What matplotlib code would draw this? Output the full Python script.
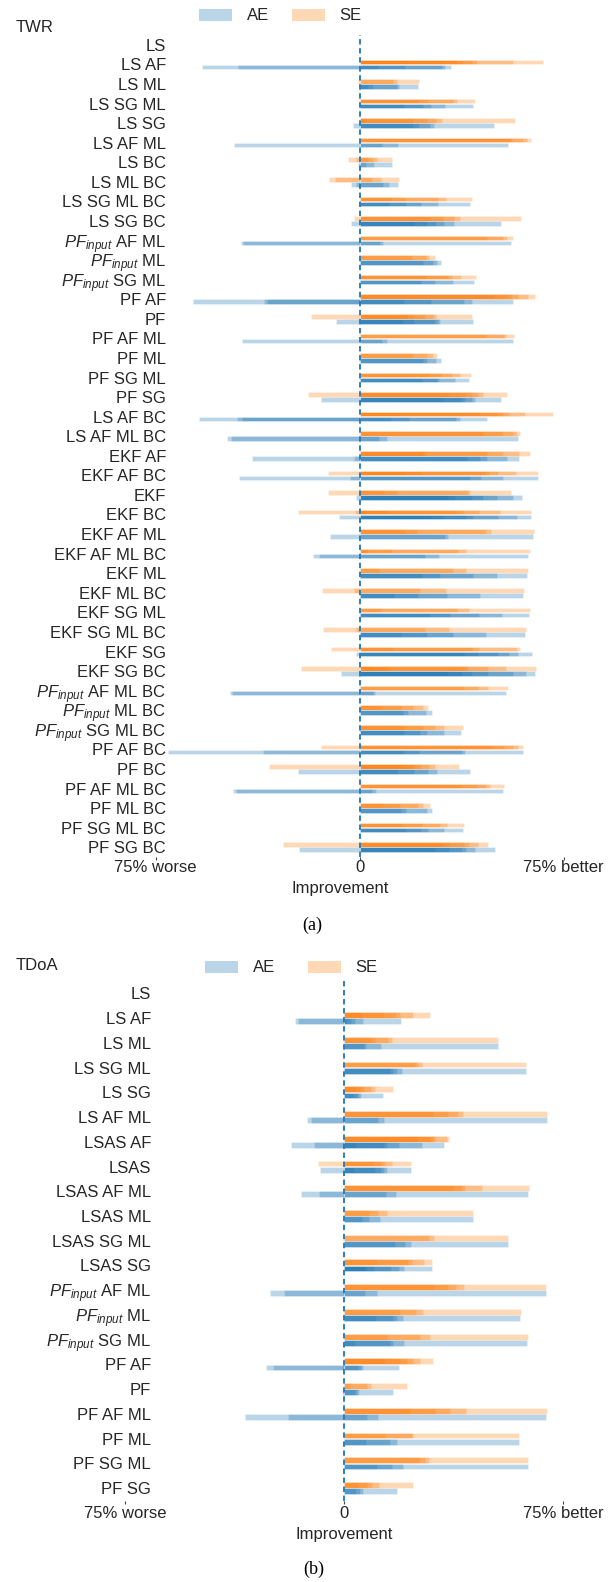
import matplotlib
matplotlib.use("Agg")
import matplotlib.pyplot as plt
from matplotlib.patches import Patch

plt.rcParams['font.family'] = ['Liberation Sans', 'DejaVu Sans']
plt.rcParams['mathtext.fontset'] = 'custom'
plt.rcParams['mathtext.rm'] = 'Liberation Sans'
plt.rcParams['mathtext.it'] = 'Liberation Sans:italic'

PFI = r'$PF_{input}$'

# ---------------- data ----------------
twr_labels = ["LS", "LS AF", "LS ML", "LS SG ML", "LS SG", "LS AF ML", "LS BC", "LS ML BC",
              "LS SG ML BC", "LS SG BC", PFI + " AF ML", PFI + " ML", PFI + " SG ML", "PF AF",
              "PF", "PF AF ML", "PF ML", "PF SG ML", "PF SG", "LS AF BC", "LS AF ML BC",
              "EKF AF", "EKF AF BC", "EKF", "EKF BC", "EKF AF ML", "EKF AF ML BC", "EKF ML",
              "EKF ML BC", "EKF SG ML", "EKF SG ML BC", "EKF SG", "EKF SG BC",
              PFI + " AF ML BC", PFI + " ML BC", PFI + " SG ML BC", "PF AF BC", "PF BC",
              "PF AF ML BC", "PF ML BC", "PF SG ML BC", "PF SG BC"]

twr_se = [
    [],
    [17.3, 30.6, 35.7, 38.1, 41.5, 43.1, 56.3, 67.6],
    [-0.5, 12.4, 13.9, 21.9],
    [21.6, 25.3, 34.3, 36.0, 42.5],
    [2.3, 19.8, 24.9, 28.1, 30.2, 57.2],
    [55.3, 56.2, 60.0, 61.5, 62.9],
    [-1.3, -4.1, 3.0, 5.1, 6.4, 11.8],
    [-9.0, -11.2, 4.7, 7.8, 14.6],
    [11.4, 16.7, 29.0, 31.8, 41.2],
    [-2.0, 26.3, 30.8, 34.7, 36.9, 59.4],
    [47.0, 52.6, 54.1, 56.3],
    [19.4, 24.5, 25.7, 27.6],
    [24.5, 32.7, 34.1, 37.2, 42.7],
    [49.4, 54.7, 56.1, 58.1, 62.1, 64.4],
    [-18.0, 17.3, 19.8, 24.1, 27.1, 28.1, 41.2],
    [46.4, 53.2, 53.9, 56.9],
    [19.8, 24.7, 27.1, 28.4],
    [25.7, 30.5, 34.1, 36.9, 40.9],
    [-18.8, 33.0, 38.8, 41.5, 43.7, 45.3, 54.1],
    [14.6, 44.1, 50.4, 52.6, 55.0, 60.8, 71.0],
    [45.5, 52.5, 56.3, 57.8, 59.0],
    [23.2, 24.5, 47.0, 52.6, 58.8, 62.7],
    [-11.5, 16.7, 22.6, 46.1, 47.6, 51.0, 57.5, 65.5],
    [-11.5, 9.1, 13.9, 39.8, 40.6, 55.7],
    [-1.7, -22.5, 2.3, 10.6, 35.5, 38.2, 44.1, 51.6, 62.9],
    [16.7, 21.0, 46.4, 48.2, 64.2],
    [3.2, 11.8, 36.3, 39.2, 62.7],
    [7.3, 34.2, 39.2, 62.1],
    [-2.0, -13.9, 22.2, 31.8, 60.5],
    [7.9, 36.0, 40.3, 62.7],
    [-1.3, -13.3, 23.9, 32.9, 61.1],
    [-10.6, 12.4, 41.5, 44.1, 57.8, 59.0],
    [-21.6, 5.1, 11.0, 38.4, 40.0, 47.1, 53.9, 64.8],
    [38.4, 43.7, 47.4, 54.5],
    [7.9, 15.1, 19.6, 23.2, 25.1],
    [16.5, 23.2, 27.7, 31.1, 38.2],
    [-14.2, 48.8, 53.1, 56.5, 58.4, 60.2],
    [-33.1, 15.9, 19.2, 20.4, 22.6, 25.7, 27.7, 36.6],
    [37.3, 43.3, 46.4, 48.0, 53.2],
    [8.8, 14.9, 21.6, 23.5, 25.9],
    [15.7, 23.1, 29.6, 32.3, 38.4],
    [-28.0, 30.8, 33.3, 38.4, 40.3, 43.7, 47.4],
]

twr_ae = [
    [],
    [-44.8, -58.0, 6.9, 16.7, 30.2, 31.4, 33.5],
    [3.2, 5.1, 13.7, 14.6, 21.4],
    [16.5, 23.2, 26.2, 31.4, 41.6],
    [-2.3, 19.8, 22.0, 25.9, 27.4, 49.4],
    [-46.1, 8.4, 14.0, 54.7],
    [-0.4, 2.3, 5.5, 11.8],
    [-1.3, -3.2, 8.8, 10.7, 14.3],
    [11.0, 17.0, 22.6, 29.0, 40.6],
    [-3.2, 20.1, 24.7, 28.1, 31.1, 34.9, 51.9],
    [-42.7, -43.7, 7.5, 8.5, 55.6],
    [23.5, 26.9, 28.4, 30.0],
    [22.6, 27.9, 34.2, 42.1],
    [-34.1, -35.1, -61.1, 16.5, 26.4, 38.4, 41.2, 56.5],
    [-8.8, 15.9, 20.0, 27.7, 28.7, 29.6, 41.6],
    [-43.3, 8.1, 10.0, 56.3],
    [23.5, 24.9, 28.0, 29.8],
    [23.1, 28.4, 29.2, 35.1, 40.3],
    [-14.2, 30.6, 37.3, 38.8, 41.2, 42.5, 51.9],
    [-43.3, -45.2, -58.9, 11.6, 18.3, 35.5, 36.9, 46.7],
    [-47.4, -48.6, 7.3, 10.2, 58.1],
    [-2.0, -39.5, 39.4, 44.3, 47.0, 54.1, 58.8],
    [-3.5, -44.3, 40.6, 44.7, 52.6, 65.5],
    [-1.4, 32.7, 35.1, 41.5, 45.5, 50.4, 56.5, 59.6],
    [-7.4, 26.3, 31.2, 39.2, 41.6, 50.8, 57.8, 62.9],
    [-10.8, 31.4, 32.7, 63.7],
    [-14.9, -17.0, 24.1, 29.2, 62.1],
    [23.1, 29.6, 41.6, 50.4, 61.7],
    [12.8, 21.6, 32.3, 44.3, 60.0],
    [25.9, 33.3, 43.9, 52.3, 62.4],
    [15.3, 24.9, 34.5, 46.4, 60.8],
    [-1.3, 38.8, 43.7, 51.0, 55.1, 58.1, 63.3],
    [-6.8, 32.7, 37.6, 41.2, 47.4, 56.5, 61.2, 64.5],
    [-47.0, -47.6, 4.8, 5.7, 53.9],
    [16.1, 17.9, 24.5, 26.5],
    [16.5, 22.2, 24.9, 31.1, 37.3],
    [-35.3, -70.3, 16.5, 22.0, 37.6, 38.8, 60.2],
    [-22.7, 14.3, 20.2, 25.3, 28.4, 40.6],
    [-45.5, -46.4, 4.5, 6.1, 52.6],
    [15.3, 17.0, 24.9, 26.5],
    [17.0, 22.5, 25.3, 31.1, 37.9],
    [-22.2, 27.7, 33.0, 37.6, 39.0, 42.5, 49.8],
]

tdoa_labels = ["LS", "LS AF", "LS ML", "LS SG ML", "LS SG", "LS AF ML", "LSAS AF", "LSAS",
               "LSAS AF ML", "LSAS ML", "LSAS SG ML", "LSAS SG", PFI + " AF ML", PFI + " ML",
               PFI + " SG ML", "PF AF", "PF", "PF AF ML", "PF ML", "PF SG ML", "PF SG"]

tdoa_se = [
    [],
    [6.3, 13.7, 17.8, 19.2, 23.7, 29.5],
    [9.2, 10.6, 15.2, 16.4, 52.9],
    [24.3, 25.5, 26.6, 62.3],
    [4.1, 5.7, 6.8, 9.1, 10.6, 16.7],
    [30.4, 35.7, 39.2, 40.6, 69.6],
    [25.5, 29.5, 30.6, 31.2, 35.2, 36.1],
    [-9.0, 10.0, 12.7, 14.0, 16.3, 22.9],
    [37.2, 40.3, 41.4, 47.1, 63.5],
    [8.7, 11.8, 14.6, 44.3],
    [29.2, 30.9, 56.3],
    [11.2, 22.0, 23.2, 27.4, 30.3],
    [30.9, 35.7, 38.2, 41.1, 69.2],
    [19.2, 24.7, 26.9, 60.5],
    [14.8, 26.0, 29.5, 62.9],
    [14.0, 19.2, 21.7, 23.7, 26.0, 30.4],
    [2.1, 7.8, 9.1, 21.5],
    [22.6, 31.2, 36.3, 41.8, 69.4],
    [14.0, 23.2, 23.7, 59.9],
    [26.0, 27.7, 29.1, 63.1],
    [4.9, 7.8, 9.5, 12.0, 23.7],
]

tdoa_ae = [
    [],
    [-15.9, -16.8, 1.1, 2.4, 3.8, 6.4, 19.5],
    [7.0, 7.4, 12.7, 52.6],
    [15.8, 16.9, 18.3, 19.7, 62.3],
    [3.0, 4.3, 5.3, 5.8, 13.5],
    [-11.4, -12.8, 11.8, 13.7, 69.4],
    [-10.3, -18.3, 4.1, 13.7, 14.6, 18.8, 26.6, 34.4],
    [-8.2, 3.4, 10.6, 12.7, 13.7, 14.8, 22.8],
    [-8.6, -14.7, 14.4, 17.8, 63.1],
    [6.3, 8.7, 12.3, 44.1],
    [17.6, 20.9, 22.8, 56.0],
    [7.2, 7.8, 10.3, 16.1, 18.8, 20.5, 30.0],
    [-20.5, -25.3, 7.2, 11.2, 69.1],
    [11.0, 16.7, 18.0, 20.1, 60.3],
    [3.8, 15.8, 16.9, 20.5, 62.8],
    [-0.6, -24.4, -26.8, 4.7, 5.7, 6.6, 18.8],
    [-0.6, 3.8, 4.6, 5.3, 16.7],
    [-19.3, -33.9, 8.0, 11.8, 69.2],
    [7.5, 15.8, 18.0, 59.9],
    [11.2, 16.3, 20.1, 62.9],
    [4.1, 5.5, 6.4, 18.0],
]

tick_vals = [-75, 0, 75]
tick_text = ["75% worse", "0", "75% better"]

# ---------------- style ----------------
W, H = 616, 1582
BLUE = "#1f77b4"
ORANGE = "#ff7f0e"
ALPHA = 0.3
TXT = "#262626"

fig = plt.figure(figsize=(W / 100, H / 100), dpi=100)


def panel(left, right, top, bottom, zero_px, px75, label_edge, xlabel_px, labels, se, ae,
          title, title_y, leg_x, leg_y, colsp, tpad, lpad):
    ax = fig.add_axes([left / W, 1 - bottom / H, (right - left) / W, (bottom - top) / H])
    ppu = px75 / 75.0
    n = len(labels)
    h = 0.235
    for i in range(n):
        if se[i]:
            ax.barh([i - 0.125] * len(se[i]), se[i], height=h, color=ORANGE, alpha=ALPHA,
                    edgecolor="white", linewidth=0.6, zorder=2)
        if ae[i]:
            ax.barh([i + 0.125] * len(ae[i]), ae[i], height=h, color=BLUE, alpha=ALPHA,
                    edgecolor="white", linewidth=0.6, zorder=2)
    ax.axvline(0, color=BLUE, linestyle=(0, (3.0, 2.0)), linewidth=1.3, zorder=5)
    ax.set_yticks(range(n))
    ax.set_yticklabels(labels, fontsize=12, color=TXT)
    # labels sit to the right of the axes edge (inside the empty left margin)
    ax.tick_params(axis="y", length=0, pad=-(label_edge - left) * 0.72)
    ax.set_xticks(tick_vals)
    ax.set_xticklabels(tick_text, fontsize=12, color=TXT)
    ax.tick_params(axis="x", length=2.5, width=0.8, color="#444444", pad=tpad)
    ax.set_xlim((left - zero_px) / ppu, (right - zero_px) / ppu)
    ax.set_ylim(n - 0.5, -0.5)
    ax.set_xlabel("Improvement", fontsize=12, color=TXT, labelpad=lpad)
    ax.xaxis.label.set_x((xlabel_px - left) / (right - left))
    for s in ax.spines.values():
        s.set_visible(False)
    fig.text(15.7 / W, 1 - title_y / H, title, fontsize=12, color=TXT,
             ha="left", va="center")
    handles = [Patch(facecolor=BLUE, alpha=ALPHA, edgecolor="none", label="AE"),
               Patch(facecolor=ORANGE, alpha=ALPHA, edgecolor="none", label="SE")]
    fig.legend(handles=handles, loc="center left", bbox_to_anchor=(leg_x / W, 1 - leg_y / H),
               ncol=2, frameon=False, fontsize=12, borderpad=0, borderaxespad=0,
               handlelength=2.0, handleheight=0.72, handletextpad=0.85, columnspacing=colsp,
               labelcolor=TXT)
    return ax


panel(120, 592, 35, 857, 359.5, 204, 166, 340, twr_labels, twr_se, twr_ae, "TWR", 27,
      199, 16, 1.4, 0.0, 4.0)
panel(105, 580, 981, 1500.5, 344, 219, 151, 344, tdoa_labels, tdoa_se, tdoa_ae, "TDoA", 966,
      205, 968, 2.0, 1.5, 4.0)

fig.text(312 / W, 1 - 925 / H, "(a)", fontsize=13, family=["Liberation Serif"],
         ha="center", va="center", color="black")
fig.text(314 / W, 1 - 1569 / H, "(b)", fontsize=13, family=["Liberation Serif"],
         ha="center", va="center", color="black")

fig.savefig("out.png", dpi=100)
